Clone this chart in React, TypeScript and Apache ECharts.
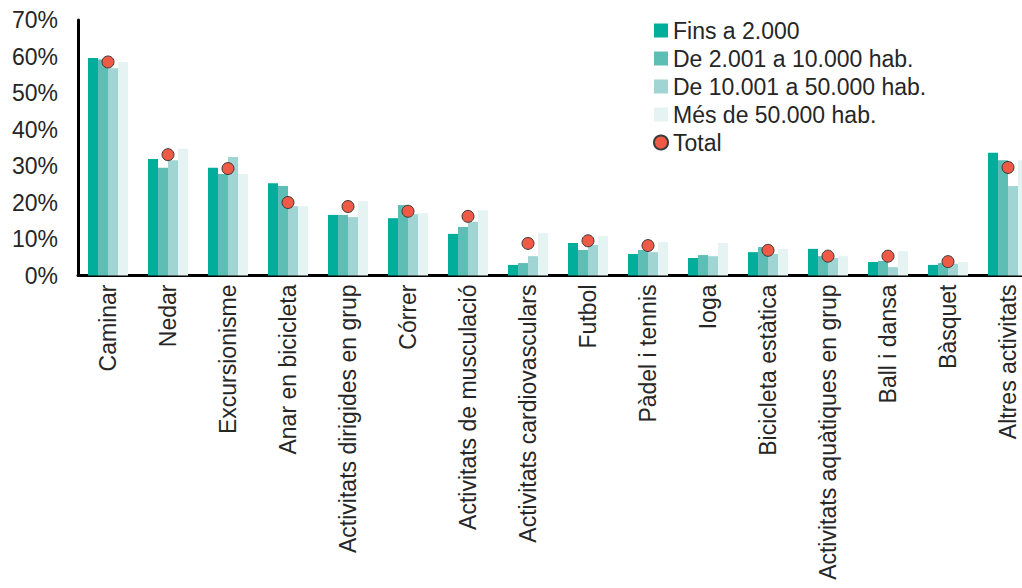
import React, { useEffect, useRef } from "react";
import * as echarts from "echarts";

const categories = [
  "Caminar",
  "Nedar",
  "Excursionisme",
  "Anar en bicicleta",
  "Activitats dirigides en grup",
  "Córrer",
  "Activitats de musculació",
  "Activitats cardiovasculars",
  "Futbol",
  "Pàdel i tennis",
  "Ioga",
  "Bicicleta estàtica",
  "Activitats aquàtiques en grup",
  "Ball i dansa",
  "Bàsquet",
  "Altres activitats",
];

const fins2000 = [59.6, 31.9, 29.5, 25.3, 16.6, 15.7, 11.4, 2.9, 8.9, 5.9, 4.8, 6.4, 7.3, 3.7, 2.9, 33.6];
const de2001a10000 = [59.2, 29.5, 27.8, 24.5, 16.6, 19.3, 13.3, 3.4, 7.0, 7.0, 5.6, 7.8, 5.3, 4.0, 3.4, 31.6];
const de10001a50000 = [56.8, 31.6, 32.5, 19.0, 16.0, 16.8, 14.7, 5.3, 8.4, 6.4, 5.3, 5.9, 4.8, 2.3, 3.2, 24.5];
const mes50000 = [58.5, 34.7, 27.8, 19.0, 20.4, 17.1, 17.9, 11.6, 10.8, 9.2, 8.9, 7.3, 5.3, 6.7, 3.7, 31.6];
const total = [58.5, 33.1, 29.3, 20.0, 18.9, 17.6, 16.2, 8.8, 9.5, 8.2, null, 6.9, 5.3, 5.3, 3.8, 29.6];

const seriesNames = [
  "Fins a 2.000",
  "De 2.001 a 10.000 hab.",
  "De 10.001 a 50.000 hab.",
  "Més de 50.000 hab.",
  "Total",
];

const barColors = ["#00AE9B", "#5CBEB5", "#A0D5D3", "#E5F4F3"];
const FONT = "'Liberation Sans', Arial, sans-serif";
const TEXT = "#262626";

export default function App() {
  const ref = useRef<HTMLDivElement>(null);

  useEffect(() => {
    if (!ref.current) return;
    const chart = echarts.init(ref.current, undefined, { renderer: "svg" });
    const barData = [fins2000, de2001a10000, de10001a50000, mes50000];
    chart.setOption({
      animation: false,
      textStyle: { fontFamily: FONT },
      grid: { left: 78, right: 0, top: 20, bottom: 312.5 },
      legend: {
        orient: "vertical",
        left: 648,
        top: 14,
        itemWidth: 14,
        itemHeight: 14,
        itemGap: 5,
        textStyle: { fontSize: 23, color: TEXT, fontFamily: FONT },
        data: seriesNames.map((n, i) =>
          i < 4 ? { name: n, icon: "rect" } : { name: n, icon: "circle" }
        ),
      },
      xAxis: {
        type: "category",
        data: categories,
        axisLine: { show: true, lineStyle: { color: "#000", width: 3 } },
        axisTick: { show: false },
        axisLabel: {
          rotate: 90,
          interval: 0,
          margin: 9,
          fontSize: 23,
          color: TEXT,
          fontFamily: FONT,
        },
      },
      yAxis: {
        type: "value",
        min: 0,
        max: 70,
        interval: 10,
        axisLine: { show: true, lineStyle: { color: "#000", width: 3 } },
        axisTick: { show: false },
        splitLine: { show: false },
        axisLabel: {
          formatter: "{value}%",
          margin: 20,
          fontSize: 23,
          color: TEXT,
          fontFamily: FONT,
        },
      },
      series: [
        ...barData.map((d, i) => ({
          name: seriesNames[i],
          type: "bar",
          data: d,
          barWidth: 10,
          barGap: "0%",
          itemStyle: { color: barColors[i] },
        })),
        {
          name: seriesNames[4],
          type: "scatter",
          data: total,
          symbol: "circle",
          symbolSize: 12,
          itemStyle: { color: "#EE5A45", borderColor: "#3a3a3a", borderWidth: 1, opacity: 1 },
          z: 5,
        },
      ],
    });
    return () => chart.dispose();
  }, []);

  return (
    <div
      style={{
        position: "absolute",
        left: 0,
        top: 0,
        width: 1022,
        height: 588,
        overflow: "hidden",
        background: "#fff",
      }}
    >
      <div ref={ref} style={{ width: 1038, height: 588 }} />
    </div>
  );
}
